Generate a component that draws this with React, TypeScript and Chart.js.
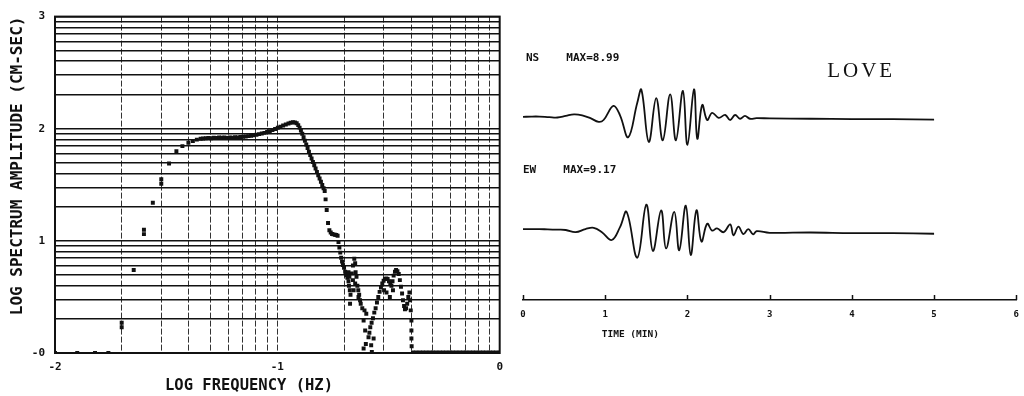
import React, { useEffect, useRef } from 'react';
import { Chart, registerables } from 'chart.js';

Chart.register(...registerables);

// ---------------- Left panel: log spectrum ----------------
const freqTickValues = [-2, -1, 0];
const freqTickLabels = ['-2', '-1', '0'];
const ampTickValues = [0, 1, 2, 3];
const ampTickLabels = ['-0', '1', '2', '3'];
const freqDecades = [-2, -1];
const ampDecades = [0, 1, 2];

const xAxisTitle = 'LOG FREQUENCY (HZ)';
const yAxisTitle = 'LOG SPECTRUM AMPLITUDE (CM-SEC)';

// [log frequency (Hz), log spectrum amplitude (cm-sec)]
const spectrumPoints: [number, number][] = [
  [-2.0, 0.0], [-1.9, 0.0], [-1.82, 0.0], [-1.76, 0.0],
  [-1.7, 0.27], [-1.7, 0.23],
  [-1.646, 0.74],
  [-1.6, 1.1], [-1.6, 1.06],
  [-1.56, 1.34],
  [-1.522, 1.55], [-1.522, 1.51],
  [-1.487, 1.69],
  [-1.454, 1.8],
  [-1.427, 1.845],
  [-1.4, 1.875],
  [-1.38, 1.89],
  [-1.362, 1.903],
  [-1.345, 1.91],
  [-1.334, 1.912], [-1.322, 1.916], [-1.31, 1.918], [-1.298, 1.915], [-1.286, 1.92],
  [-1.274, 1.918], [-1.262, 1.922], [-1.25, 1.919], [-1.238, 1.921], [-1.226, 1.918],
  [-1.214, 1.922], [-1.202, 1.92], [-1.19, 1.924], [-1.178, 1.922], [-1.166, 1.926],
  [-1.154, 1.928], [-1.142, 1.931], [-1.13, 1.934], [-1.118, 1.938], [-1.106, 1.942],
  [-1.094, 1.947], [-1.082, 1.952], [-1.07, 1.957], [-1.058, 1.963], [-1.046, 1.97],
  [-1.034, 1.978], [-1.022, 1.988], [-1.01, 1.998], [-0.998, 2.008], [-0.986, 2.018],
  [-0.974, 2.028], [-0.962, 2.038], [-0.95, 2.046], [-0.94, 2.053], [-0.93, 2.058],
  [-0.921, 2.056], [-0.913, 2.048], [-0.906, 2.032],
  [-0.9, 2.01], [-0.894, 1.985], [-0.888, 1.955], [-0.882, 1.925], [-0.876, 1.892],
  [-0.87, 1.86], [-0.864, 1.828], [-0.858, 1.796], [-0.852, 1.765], [-0.846, 1.734],
  [-0.84, 1.704], [-0.834, 1.674], [-0.828, 1.645], [-0.822, 1.615], [-0.816, 1.586],
  [-0.81, 1.556], [-0.804, 1.527], [-0.798, 1.498], [-0.792, 1.47], [-0.787, 1.445],
  [-0.783, 1.37], [-0.778, 1.275], [-0.772, 1.16], [-0.766, 1.095], [-0.76, 1.075],
  [-0.754, 1.062], [-0.748, 1.058], [-0.741, 1.055], [-0.735, 1.052], [-0.729, 1.045],
  [-0.725, 0.99], [-0.721, 0.94], [-0.717, 0.895], [-0.713, 0.85], [-0.709, 0.815],
  [-0.705, 0.785], [-0.7, 0.76], [-0.695, 0.725], [-0.69, 0.695], [-0.685, 0.67],
  [-0.68, 0.64], [-0.678, 0.6], [-0.674, 0.56], [-0.671, 0.52],
  [-0.68, 0.72], [-0.676, 0.68], [-0.665, 0.71], [-0.66, 0.78], [-0.654, 0.84],
  [-0.65, 0.8], [-0.648, 0.72], [-0.644, 0.68], [-0.65, 0.62], [-0.657, 0.56],
  [-0.66, 0.65], [-0.64, 0.6], [-0.636, 0.56], [-0.632, 0.52], [-0.628, 0.47],
  [-0.673, 0.44], [-0.635, 0.5], [-0.625, 0.44],
  [-0.618, 0.4], [-0.608, 0.38], [-0.6, 0.35], [-0.612, 0.29], [-0.605, 0.2],
  [-0.612, 0.04], [-0.602, 0.08], [-0.59, 0.14], [-0.578, 0.07], [-0.575, 0.01],
  [-0.567, 0.13],
  [-0.586, 0.18], [-0.582, 0.23], [-0.576, 0.27], [-0.57, 0.31], [-0.564, 0.36],
  [-0.558, 0.4], [-0.552, 0.45], [-0.546, 0.5], [-0.54, 0.545], [-0.534, 0.585],
  [-0.528, 0.62], [-0.522, 0.645], [-0.516, 0.66], [-0.51, 0.665], [-0.504, 0.66],
  [-0.498, 0.64], [-0.492, 0.62], [-0.487, 0.6], [-0.482, 0.64], [-0.477, 0.69],
  [-0.471, 0.725], [-0.466, 0.74], [-0.46, 0.73], [-0.454, 0.705], [-0.449, 0.65],
  [-0.444, 0.59], [-0.439, 0.53], [-0.435, 0.47], [-0.43, 0.42], [-0.426, 0.39],
  [-0.421, 0.4], [-0.416, 0.44], [-0.411, 0.5], [-0.406, 0.54], [-0.403, 0.47],
  [-0.4, 0.38], [-0.397, 0.29], [-0.397, 0.2], [-0.397, 0.13], [-0.396, 0.06],
  [-0.509, 0.54], [-0.494, 0.5], [-0.52, 0.56], [-0.48, 0.56],
  [-0.39, 0.005], [-0.375, 0.005], [-0.36, 0.005], [-0.345, 0.005], [-0.33, 0.005],
  [-0.315, 0.005], [-0.3, 0.005], [-0.285, 0.005], [-0.27, 0.005], [-0.255, 0.005],
  [-0.24, 0.005], [-0.225, 0.005], [-0.21, 0.005], [-0.195, 0.005], [-0.18, 0.005],
  [-0.165, 0.005], [-0.15, 0.005], [-0.135, 0.005], [-0.12, 0.005], [-0.105, 0.005],
  [-0.09, 0.005], [-0.075, 0.005], [-0.06, 0.005], [-0.045, 0.005], [-0.03, 0.005],
  [-0.015, 0.005], [0.0, 0.005],
];

// ---------------- Right panel: seismograms ----------------
const timeTickValues = [0, 1, 2, 3, 4, 5, 6];
const timeTickLabels = ['0', '1', '2', '3', '4', '5', '6'];
const timeTitle = 'TIME (MIN)';
const nsLabel = 'NS';
const nsMaxLabel = 'MAX=8.99';
const ewLabel = 'EW';
const ewMaxLabel = 'MAX=9.17';
const waveLabel = 'LOVE';

const nsTime = [
  0.0, 0.1, 0.2, 0.32, 0.42, 0.52, 0.62, 0.72, 0.82, 0.92, 0.98, 1.1, 1.18, 1.28,
  1.39, 1.44, 1.53, 1.62, 1.7, 1.79, 1.86, 1.945, 2.0, 2.08, 2.12, 2.18, 2.24, 2.3,
  2.38, 2.46, 2.52, 2.58, 2.64, 2.7, 2.76, 2.84, 3.0, 3.5, 4.0, 4.5, 5.0,
];
const nsAmp = [
  0.0, 0.1, 0.1, -0.1, -0.2, 0.3, 0.8, 0.5, -0.4, -1.6, -1.0, 3.5, 0.5, -6.5,
  4.5, 8.7, -8.0, 6.0, -7.5, 7.2, -7.5, 8.3, -8.99, 8.8, -7.0, 3.8, -1.0, 1.3,
  -0.3, 0.6, -1.0, 0.6, -0.6, 0.3, -0.6, -0.4, -0.5, -0.6, -0.7, -0.7, -0.9,
];

const ewTime = [
  0.0, 0.1, 0.2, 0.3, 0.42, 0.52, 0.64, 0.76, 0.86, 0.96, 1.08, 1.18, 1.26, 1.39,
  1.5, 1.58, 1.68, 1.74, 1.84, 1.9, 1.98, 2.04, 2.11, 2.17, 2.24, 2.3, 2.36, 2.44,
  2.52, 2.56, 2.62, 2.68, 2.74, 2.8, 2.84, 3.0, 3.5, 4.0, 4.5, 5.0,
];
const ewAmp = [
  0.0, 0.0, 0.0, -0.1, -0.2, -0.3, -1.0, 0.0, 0.4, -1.0, -3.5, 0.6, 5.5, -9.17,
  7.8, -7.0, 6.0, -6.2, 5.5, -6.8, 7.5, -8.3, 6.0, -4.0, 1.7, -0.5, 0.2, -1.0,
  1.5, -2.0, 0.8, -1.6, 0.0, -1.7, -0.7, -1.2, -1.1, -1.3, -1.3, -1.5,
];

// ---------------- helpers ----------------
const MONO = '"DejaVu Sans Mono", monospace';
const INK = '#111';

function logGrid(decades: number[]): number[] {
  const vals: number[] = [];
  decades.forEach((d) => {
    for (let k = 1; k <= 9; k++) vals.push(d + Math.log10(k));
  });
  vals.push(decades[decades.length - 1] + 1);
  return vals;
}

function labelFor(v: number, values: number[], labels: string[]): string {
  for (let i = 0; i < values.length; i++) {
    if (Math.abs(v - values[i]) < 1e-6) return labels[i];
  }
  return '';
}

const framePlugin = {
  id: 'frame',
  afterDraw(chart: any) {
    const { ctx, chartArea } = chart;
    ctx.save();
    ctx.strokeStyle = INK;
    ctx.lineWidth = 2;
    ctx.strokeRect(chartArea.left, chartArea.top, chartArea.right - chartArea.left, chartArea.bottom - chartArea.top);
    ctx.restore();
  },
};

const leftTextPlugin = {
  id: 'leftText',
  afterDraw(chart: any) {
    const { ctx, chartArea } = chart;
    ctx.save();
    ctx.fillStyle = INK;
    ctx.font = `bold 15.5px ${MONO}`;
    ctx.textAlign = 'left';
    ctx.textBaseline = 'middle';
    ctx.fillText(xAxisTitle, chartArea.left + 110, 386);
    ctx.restore();
  },
};

type Note = { text: string; t: number; axis: string; v: number; font: string; spacing?: string };

const rightNotes: Note[] = [
  { text: nsLabel, t: 0.036, axis: 'yNS', v: 18.8, font: `bold 11px ${MONO}` },
  { text: nsMaxLabel, t: 0.527, axis: 'yNS', v: 18.8, font: `bold 11px ${MONO}` },
  { text: waveLabel, t: 3.7, axis: 'yNS', v: 14.4, font: `21px "Liberation Serif", serif`, spacing: '3px' },
  { text: ewLabel, t: 0.0, axis: 'yEW', v: 18.7, font: `bold 11px ${MONO}` },
  { text: ewMaxLabel, t: 0.49, axis: 'yEW', v: 18.7, font: `bold 11px ${MONO}` },
  { text: timeTitle, t: 0.958, axis: 'yNS', v: -69.8, font: `bold 9.5px ${MONO}` },
];

const rightDecorPlugin = {
  id: 'rightDecor',
  afterDraw(chart: any) {
    const { ctx, chartArea, scales } = chart;
    ctx.save();
    // upward tick marks on the time axis
    ctx.strokeStyle = INK;
    ctx.lineWidth = 1.5;
    timeTickValues.forEach((t) => {
      const x = Math.round(scales.x.getPixelForValue(t)) + 0.5;
      ctx.beginPath();
      ctx.moveTo(x, chartArea.bottom);
      ctx.lineTo(x, chartArea.bottom - 5);
      ctx.stroke();
    });
    // annotations
    ctx.fillStyle = INK;
    ctx.textAlign = 'left';
    ctx.textBaseline = 'middle';
    rightNotes.forEach((n) => {
      ctx.font = n.font;
      (ctx as any).letterSpacing = n.spacing || '0px';
      ctx.fillText(n.text, scales.x.getPixelForValue(n.t), scales[n.axis].getPixelForValue(n.v));
    });
    (ctx as any).letterSpacing = '0px';
    ctx.restore();
  },
};

export default function App() {
  const leftRef = useRef<HTMLCanvasElement>(null);
  const rightRef = useRef<HTMLCanvasElement>(null);

  useEffect(() => {
    const xGrid = logGrid(freqDecades);
    const yGrid = logGrid(ampDecades);

    const left = new Chart(leftRef.current as HTMLCanvasElement, {
      type: 'scatter',
      data: {
        datasets: [
          {
            data: spectrumPoints.map(([x, y]) => ({ x, y })),
            pointStyle: 'rect',
            pointRadius: 2.8,
            backgroundColor: INK,
            borderColor: INK,
            borderWidth: 0,
          },
        ],
      },
      options: {
        animation: false,
        responsive: false,
        maintainAspectRatio: false,
        layout: { padding: { top: 15, right: 0, left: 0, bottom: 0 } },
        plugins: { legend: { display: false }, tooltip: { enabled: false } },
        scales: {
          x: {
            type: 'linear',
            min: -2,
            max: 0,
            afterBuildTicks: (s: any) => {
              s.ticks = xGrid.map((v) => ({ value: v }));
            },
            afterFit: (s: any) => {
              s.height = 43;
            },
            ticks: {
              autoSkip: false,
              maxRotation: 0,
              padding: 8,
              color: INK,
              font: { family: MONO, size: 11, weight: 'bold' },
              callback: (v: any) => labelFor(Number(v), freqTickValues, freqTickLabels),
            },
            grid: { color: '#333', lineWidth: 1, drawTicks: false },
            border: { display: false, dash: [6, 2] },
          },
          y: {
            type: 'linear',
            min: 0,
            max: 3,
            afterBuildTicks: (s: any) => {
              s.ticks = yGrid.map((v) => ({ value: v }));
            },
            afterFit: (s: any) => {
              s.width = 55;
            },
            ticks: {
              autoSkip: false,
              padding: 10,
              color: INK,
              font: { family: MONO, size: 11, weight: 'bold' },
              callback: (v: any) => labelFor(Number(v), ampTickValues, ampTickLabels),
            },
            grid: { color: '#111', lineWidth: 1.5, drawTicks: false },
            border: { display: false },
            title: {
              display: true,
              text: yAxisTitle,
              align: 'end',
              color: INK,
              font: { family: MONO, size: 16, weight: 'bold' },
              padding: { top: 8, bottom: 0 },
            },
          },
        },
      },
      plugins: [framePlugin, leftTextPlugin],
    } as any);

    const right = new Chart(rightRef.current as HTMLCanvasElement, {
      type: 'line',
      data: {
        datasets: [
          {
            label: nsLabel,
            data: nsTime.map((t, i) => ({ x: t, y: nsAmp[i] })),
            yAxisID: 'yNS',
            borderColor: INK,
            borderWidth: 1.8,
            pointRadius: 0,
            tension: 0.4,
            fill: false,
          },
          {
            label: ewLabel,
            data: ewTime.map((t, i) => ({ x: t, y: ewAmp[i] })),
            yAxisID: 'yEW',
            borderColor: INK,
            borderWidth: 1.8,
            pointRadius: 0,
            tension: 0.4,
            fill: false,
          },
        ],
      },
      options: {
        animation: false,
        responsive: false,
        maintainAspectRatio: false,
        layout: { padding: { top: 20, right: 0, left: 18, bottom: 0 } },
        plugins: { legend: { display: false }, tooltip: { enabled: false } },
        scales: {
          x: {
            type: 'linear',
            min: 0,
            max: 6,
            afterBuildTicks: (s: any) => {
              s.ticks = timeTickValues.map((v) => ({ value: v }));
            },
            afterFit: (s: any) => {
              s.height = 96;
            },
            ticks: {
              autoSkip: false,
              maxRotation: 0,
              padding: 9,
              color: INK,
              font: { family: MONO, size: 9, weight: 'bold' },
              callback: (v: any) => labelFor(Number(v), timeTickValues, timeTickLabels),
            },
            grid: { display: false, drawTicks: false },
            border: { display: true, color: INK, width: 1.5 },
          },
          yNS: { type: 'linear', display: false, min: -58.6, max: 31 },
          yEW: { type: 'linear', display: false, min: -22.7, max: 66.9 },
        },
      },
      plugins: [rightDecorPlugin],
    } as any);

    return () => {
      left.destroy();
      right.destroy();
    };
  }, []);

  return (
    <div
      style={{
        position: 'fixed',
        left: 0,
        top: 0,
        width: 1024,
        height: 396,
        overflow: 'hidden',
        background: '#fff',
      }}
    >
      <canvas
        ref={leftRef}
        width={511}
        height={396}
        style={{ position: 'absolute', left: 0, top: 0, width: 511, height: 396 }}
      />
      <canvas
        ref={rightRef}
        width={523}
        height={396}
        style={{ position: 'absolute', left: 505, top: 0, width: 523, height: 396 }}
      />
    </div>
  );
}
